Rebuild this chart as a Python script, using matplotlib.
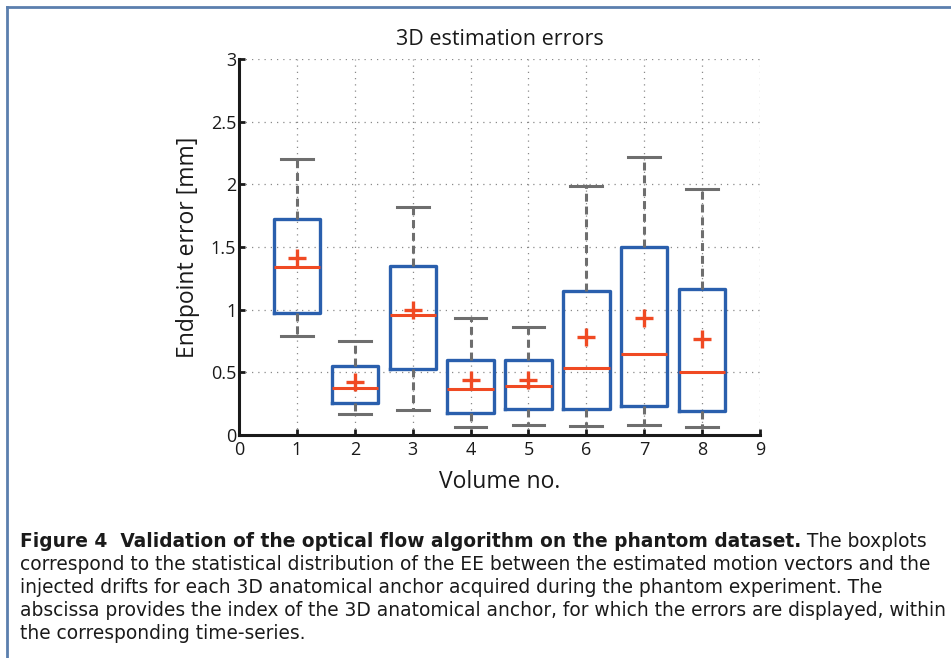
import matplotlib
matplotlib.use("Agg")
import matplotlib.pyplot as plt
from matplotlib.lines import Line2D

# values (mm)
volumes = [1, 2, 3, 4, 5, 6, 7, 8]
whis_hi = [2.20, 0.75, 1.82, 0.93, 0.86, 1.99, 2.22, 1.96]
q3 = [1.72, 0.55, 1.35, 0.60, 0.60, 1.15, 1.50, 1.165]
medians = [1.34, 0.375, 0.96, 0.37, 0.39, 0.535, 0.645, 0.50]
means = [1.41, 0.42, 1.00, 0.44, 0.44, 0.78, 0.93, 0.77]
q1 = [0.975, 0.255, 0.525, 0.175, 0.21, 0.21, 0.23, 0.19]
whis_lo = [0.79, 0.17, 0.20, 0.065, 0.08, 0.07, 0.08, 0.065]

xticks = list(range(0, 10))
yticks = [0, 0.5, 1, 1.5, 2, 2.5, 3]
ytick_labels = ["0", "0.5", "1", "1.5", "2", "2.5", "3"]

caption_bold = "Figure 4  Validation of the optical flow algorithm on the phantom dataset."
caption_lines = [
    " The boxplots",
    "correspond to the statistical distribution of the EE between the estimated motion vectors and the",
    "injected drifts for each 3D anatomical anchor acquired during the phantom experiment. The",
    "abscissa provides the index of the 3D anatomical anchor, for which the errors are displayed, within",
    "the corresponding time-series.",
]

blue = "#2a5fad"
red = "#f04a23"
gray = "#6e6e6e"

plt.rcParams['font.family'] = ['Open Sans', 'DejaVu Sans']

fig = plt.figure(figsize=(9.51, 6.58), dpi=100)
ax = fig.add_axes([0.2513, 0.3389, 0.5479, 0.5714])

stats = []
for i in range(len(volumes)):
    stats.append(dict(med=medians[i], q1=q1[i], q3=q3[i], whislo=whis_lo[i],
                      whishi=whis_hi[i], mean=means[i], fliers=[]))

ax.bxp(stats, positions=volumes, widths=0.8, showmeans=True, zorder=3,
       boxprops=dict(color=blue, linewidth=2.4),
       medianprops=dict(color=red, linewidth=2.2),
       whiskerprops=dict(color=gray, linewidth=2.2, linestyle=(0, (2.6, 1.6))),
       capprops=dict(color=gray, linewidth=2.2),
       capwidths=0.55,
       meanprops=dict(marker='+', markeredgecolor=red, markersize=13,
                      markeredgewidth=2.4))

ax.set_xlim(0, 9)
ax.set_ylim(0, 3)
ax.set_xticks(xticks)
ax.set_xticklabels([str(t) for t in xticks])
ax.set_yticks(yticks)
ax.set_yticklabels(ytick_labels)
ax.grid(True, linestyle=(0, (1, 4)), color="#8a8a8a", linewidth=0.9, zorder=0)
ax.set_axisbelow(True)
for s in ["top", "right"]:
    ax.spines[s].set_visible(False)
for s in ["left", "bottom"]:
    ax.spines[s].set_linewidth(2.2)
    ax.spines[s].set_color("#1a1a1a")
ax.tick_params(direction='in', length=4, width=2, labelsize=13, pad=2,
               colors="#1a1a1a")
ax.tick_params(axis='x', pad=4)
ax.set_title("3D estimation errors", fontsize=15.5, pad=10, color="#1a1a1a")
ax.set_xlabel("Volume no.", fontsize=16.5, labelpad=8, color="#1a1a1a")
ax.set_ylabel("Endpoint error [mm]", fontsize=16.5, labelpad=8, color="#1a1a1a")

# frame lines
fig.add_artist(Line2D([7 / 951, 1.0], [1 - 7 / 658, 1 - 7 / 658],
                      transform=fig.transFigure, color="#5b7fae", linewidth=2))
fig.add_artist(Line2D([7 / 951, 7 / 951], [0, 1 - 7 / 658],
                      transform=fig.transFigure, color="#5b7fae", linewidth=2))

# caption
cap_font = ['DejaVu Sans']
cap_size = 13.4
x0 = 20 / 951
y0 = 1 - 547 / 658
dy = 23 / 658
t = fig.text(x0, y0, caption_bold, fontsize=cap_size, fontweight='bold',
             family=cap_font, va='baseline', color="#1a1a1a")
fig.canvas.draw()
bb = t.get_window_extent()
fig.text(bb.x1 / fig.bbox.width, y0, caption_lines[0], fontsize=cap_size,
         family=cap_font, va='baseline', color="#1a1a1a")
for k, line in enumerate(caption_lines[1:]):
    fig.text(x0, y0 - dy * (k + 1), line, fontsize=cap_size, family=cap_font,
             va='baseline', color="#1a1a1a")

fig.savefig("out.png", dpi=100)
